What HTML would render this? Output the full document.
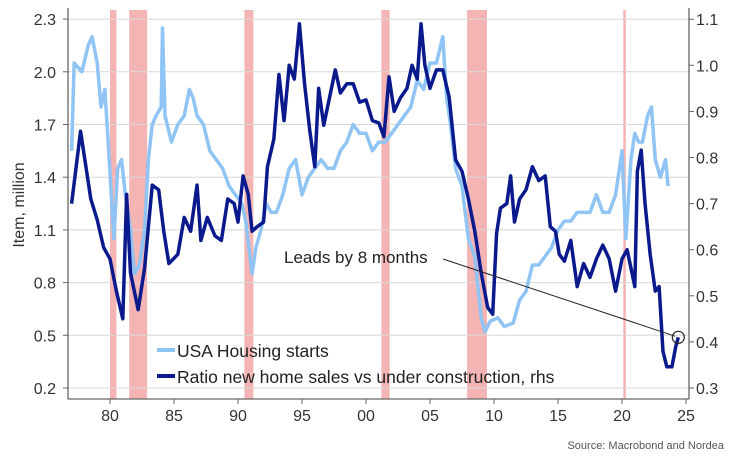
<!DOCTYPE html>
<html><head><meta charset="utf-8"><style>
body{margin:0;background:#fff;}
svg text{font-family:"Liberation Sans",sans-serif;}
</style></head><body>
<svg id="chart" width="731" height="455" xmlns="http://www.w3.org/2000/svg">
<g id="bg"></g><g id="grid"></g><g id="series"></g><g id="axes"></g>
</svg>
<script>
const recessions=[[1980.0,1980.5],[1981.5,1982.9],[1990.5,1991.2],[2001.2,2001.85],[2007.9,2009.45],[2020.1,2020.3]];
const leftTicks=[0.2,0.5,0.8,1.1,1.4,1.7,2.0,2.3];
const rightTicks=[0.3,0.4,0.5,0.6,0.7,0.8,0.9,1.0,1.1];
const xTicks=[1980,1985,1990,1995,2000,2005,2010,2015,2020,2025];
const startsT=[1977,1977.2,1977.8,1978.3,1978.6,1979,1979.3,1979.6,1979.9,1980.3,1980.6,1980.9,1981.2,1981.6,1981.9,1982.3,1982.7,1983,1983.3,1983.6,1984,1984.1,1984.3,1984.8,1985.3,1985.8,1986.2,1986.5,1986.8,1987.3,1987.8,1988.3,1988.8,1989.3,1989.8,1990.3,1990.6,1991.1,1991.4,1991.8,1992.2,1992.6,1993,1993.5,1994,1994.5,1995,1995.5,1996,1996.5,1997,1997.5,1998,1998.5,1999,1999.5,2000,2000.5,2001,2001.5,2002,2002.5,2003,2003.5,2004,2004.5,2005,2005.5,2006,2006.3,2006.6,2007,2007.5,2008,2008.5,2009,2009.3,2009.7,2010.3,2010.8,2011.5,2012,2012.5,2013,2013.5,2014,2014.5,2015,2015.5,2016,2016.5,2017,2017.5,2018,2018.5,2019,2019.5,2020,2020.3,2020.7,2021,2021.3,2021.6,2022,2022.3,2022.6,2023,2023.4,2023.6];
const startsV=[1.55,2.05,2.0,2.15,2.2,2.05,1.8,1.9,1.55,1.05,1.45,1.5,1.3,1.1,0.85,0.9,1.1,1.5,1.7,1.75,1.8,2.25,1.75,1.6,1.7,1.75,1.9,1.85,1.75,1.7,1.55,1.5,1.45,1.35,1.3,1.25,1.15,0.85,1.0,1.1,1.25,1.2,1.2,1.3,1.45,1.5,1.3,1.4,1.45,1.5,1.45,1.45,1.55,1.6,1.7,1.65,1.65,1.55,1.6,1.6,1.65,1.7,1.75,1.8,1.95,1.9,2.05,2.05,2.2,1.85,1.7,1.45,1.35,1.05,0.95,0.6,0.52,0.58,0.6,0.55,0.57,0.7,0.75,0.9,0.9,0.95,1.0,1.1,1.15,1.15,1.2,1.2,1.2,1.3,1.2,1.2,1.3,1.55,1.05,1.5,1.65,1.6,1.6,1.75,1.8,1.5,1.4,1.5,1.35];
const ratioT=[1977,1977.7,1978.5,1979,1979.5,1980,1980.5,1981,1981.3,1981.6,1982.2,1982.7,1983.3,1983.8,1984.2,1984.6,1985.3,1985.8,1986.3,1986.8,1987.1,1987.6,1988.2,1988.7,1989.2,1989.7,1990,1990.4,1990.8,1991.1,1991.5,1992,1992.3,1992.8,1993.2,1993.6,1994,1994.4,1994.8,1995.2,1995.6,1996,1996.3,1996.7,1997.3,1997.6,1998,1998.5,1999,1999.5,2000,2000.5,2001,2001.4,2001.8,2002.2,2002.7,2003.2,2003.6,2004,2004.3,2004.6,2005,2005.5,2006,2006.5,2007,2007.5,2008,2008.5,2009,2009.5,2009.9,2010.2,2010.5,2011,2011.3,2011.6,2012,2012.5,2013,2013.5,2014,2014.4,2014.8,2015.1,2015.5,2016,2016.5,2017,2017.5,2018,2018.5,2019,2019.5,2020,2020.4,2020.7,2021,2021.2,2021.5,2021.8,2022.2,2022.6,2022.9,2023.2,2023.5,2023.9,2024.2,2024.4];
const ratioV=[0.70,0.857,0.71,0.665,0.605,0.58,0.51,0.45,0.72,0.55,0.47,0.56,0.74,0.73,0.64,0.57,0.59,0.67,0.64,0.74,0.62,0.67,0.63,0.62,0.71,0.70,0.66,0.76,0.72,0.64,0.65,0.66,0.78,0.84,0.98,0.88,1.0,0.97,1.09,0.96,0.86,0.78,0.95,0.87,0.95,0.99,0.94,0.96,0.96,0.92,0.925,0.88,0.875,0.845,0.975,0.9,0.93,0.95,1.0,0.97,1.09,1.0,0.95,0.99,0.99,0.93,0.795,0.77,0.71,0.64,0.55,0.475,0.46,0.635,0.69,0.70,0.76,0.66,0.71,0.73,0.78,0.75,0.76,0.65,0.64,0.59,0.575,0.62,0.52,0.57,0.54,0.58,0.61,0.58,0.51,0.58,0.60,0.56,0.52,0.77,0.816,0.70,0.59,0.51,0.52,0.38,0.346,0.346,0.39,0.41];

const NS='http://www.w3.org/2000/svg';
const X0=68,X1=689,YB=399;
const xs=t=>110+(t-1980)*12.8;
const yl=v=>388-(v-0.2)/0.3*52.7;
const yr=v=>388-(v-0.3)/0.1*46.1;
function mk(tag,attrs,parent,txt){const e=document.createElementNS(NS,tag);for(const k in attrs)e.setAttribute(k,attrs[k]);if(txt!==undefined)e.textContent=txt;document.getElementById(parent).appendChild(e);return e;}

recessions.forEach(r=>{
 const e=mk('rect',{x:xs(r[0]),y:10,width:Math.max(1.5,xs(r[1])-xs(r[0])),height:YB-10,fill:'#f4b4b4'},'bg');
 
 
});
leftTicks.forEach(v=>{
 const g=mk('line',{x1:X0,x2:X1,y1:yl(v),y2:yl(v),stroke:'#d8d8d8','stroke-width':1},'grid');
 
 
 const t=mk('text',{x:56,y:yl(v)+6,'text-anchor':'end','font-size':16,fill:'#333'},'axes',v.toFixed(1));
 
 
 mk('line',{x1:X0-5,x2:X0,y1:yl(v),y2:yl(v),stroke:'#666'},'axes');
});
rightTicks.forEach(v=>{
 const t=mk('text',{x:696,y:yr(v)+6,'font-size':16,fill:'#333'},'axes',v.toFixed(1));
 
 
 mk('line',{x1:X1,x2:X1+5,y1:yr(v),y2:yr(v),stroke:'#666'},'axes');
});
xTicks.forEach(y=>{
 const t=mk('text',{x:xs(y),y:421,'text-anchor':'middle','font-size':16,fill:'#333'},'axes',String(y%100).padStart(2,'0'));
 
 
 mk('line',{x1:xs(y),x2:xs(y),y1:YB,y2:YB+5,stroke:'#666'},'axes');
});
mk('line',{x1:X0,x2:X0,y1:8,y2:YB,stroke:'#666','stroke-width':1.3},'axes');
mk('line',{x1:X1,x2:X1,y1:8,y2:YB,stroke:'#666','stroke-width':1.3},'axes');
mk('line',{x1:X0,x2:X1,y1:YB,y2:YB,stroke:'#666','stroke-width':1.3},'axes');

const p1=mk('polyline',{points:startsT.map((t,i)=>xs(t)+','+yl(startsV[i])).join(' '),fill:'none',stroke:'#8fc4f5','stroke-width':3.5,'stroke-linejoin':'round'},'series');


const p2=mk('polyline',{points:ratioT.map((t,i)=>xs(t)+','+yr(ratioV[i])).join(' '),fill:'none',stroke:'#0a1a8c','stroke-width':3.5,'stroke-linejoin':'round'},'series');



const lt=ratioT[ratioT.length-1],lv=ratioV[ratioV.length-1];
const ax=mk('line',{x1:443,y1:259,x2:xs(lt)-3,y2:yr(lv)-1,stroke:'#222','stroke-width':1},'axes');


const c=mk('circle',{cx:xs(lt),cy:yr(lv),r:6,fill:'none',stroke:'#222','stroke-width':1.2},'axes');


const an=mk('text',{x:284,y:263,'font-size':17,fill:'#222'},'axes','Leads by 8 months');



const l1=mk('line',{x1:157,x2:175,y1:350,y2:350,stroke:'#8fc4f5','stroke-width':4},'axes');


const lt1=mk('text',{x:177,y:357,'font-size':17.5,fill:'#222'},'axes','USA Housing starts');


const l2=mk('line',{x1:157,x2:175,y1:376,y2:376,stroke:'#0a1a8c','stroke-width':4},'axes');


const lt2=mk('text',{x:177,y:383,'font-size':17.5,fill:'#222'},'axes','Ratio new home sales vs under construction, rhs');



const yt=mk('text',{x:0,y:0,'font-size':16,fill:'#333','text-anchor':'middle',transform:'translate(24,205) rotate(-90)'},'axes','Item, million');


const src=mk('text',{x:724,y:449,'font-size':11,fill:'#555','text-anchor':'end'},'axes','Source: Macrobond and Nordea');


</script>
</body></html>
